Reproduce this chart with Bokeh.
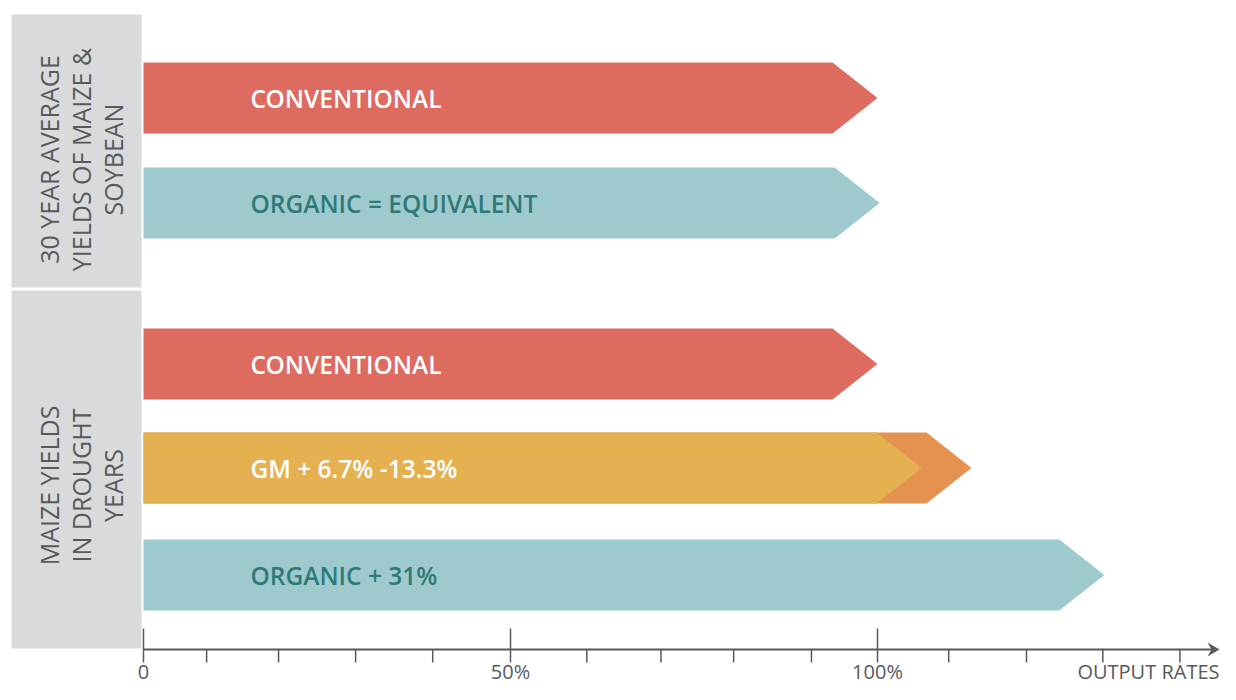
import math
from bokeh.plotting import figure
from bokeh.models import Range1d
from bokeh.core.properties import value
from bokeh.embed import file_html
from bokeh.resources import INLINE

# ---------------- data ----------------
group_labels = [
    ["30 YEAR AVERAGE", "YIELDS OF MAIZE &", "SOYBEAN"],
    ["MAIZE YIELDS", "IN DROUGHT", "YEARS"],
]
bar_labels = ["CONVENTIONAL", "ORGANIC = EQUIVALENT", "CONVENTIONAL", "GM  + 6.7% -13.3%", "ORGANIC + 31%"]
bar_group = [0, 0, 1, 1, 1]
bar_values = [100, 100.3, 100, 106, 130.9]        # output rate, % of conventional
gm_range_high = 112.8                              # GM upper end (orange)
bar_colors = ["#dd6b5f", "#9fcacd", "#dd6b5f", "#e5b050", "#9fcacd"]
label_colors = ["#ffffff", "#2e7a7a", "#ffffff", "#ffffff", "#2e7a7a"]
major_ticks = [0, 50, 100]
major_tick_labels = ["0", "50%", "100%"]
minor_ticks = [8.6, 18.4, 28.9, 39.4, 60.4, 70.5, 80.4, 91.0, 109.7, 120.3, 130.7, 141.2]
axis_title = "OUTPUT RATES"

# ---------------- layout (pixel geometry) ----------------
W, H = 1220, 684
PX = 7.34          # pixels per percent
X0 = 143           # pixel x of 0 %
def xs_(px):
    return (px - X0) / PX

row_centers = [97.5, 202.5, 363.5, 467.5, 574.5]
BAR_H = 71
HEAD = 45 / PX
panel_y = [(14, 287), (290, 648)]
panel_text_center = [159, 485]
panel_line_x = [48, 80, 112]
AXIS_Y = 649
GREY = "#58595b"
FONT = value("Open Sans")

p = figure(width=W, height=H, output_backend="svg", toolbar_location=None,
           x_range=Range1d(xs_(0), xs_(W)), y_range=Range1d(H, 0),
           x_axis_type=None, y_axis_type=None, min_border=0,
           outline_line_color=None, background_fill_color="white")
p.grid.visible = False

# grey group panels
p.quad(left=[xs_(11)] * 2, right=[xs_(141)] * 2,
       bottom=[b for _, b in panel_y], top=[t for t, _ in panel_y],
       fill_color="#d9dadc", line_color=None)

# group labels (rotated)
tx, ty, tt = [], [], []
for g, lines in enumerate(group_labels):
    for i, line in enumerate(lines):
        tx.append(xs_(panel_line_x[i]))
        ty.append(panel_text_center[g])
        tt.append(line)
p.text(x=tx, y=ty, text=tt, angle=math.pi / 2, text_align="center", text_baseline="middle",
       text_font=FONT, text_font_size="25px", text_color=GREY)

# arrows
def arrow(v, yc):
    head = min(HEAD, v)
    return ([0, v - head, v, v - head, 0],
            [yc - BAR_H / 2, yc - BAR_H / 2, yc, yc + BAR_H / 2, yc + BAR_H / 2])

axs, ays, acol = [], [], []
for i, v in enumerate(bar_values):
    if bar_labels[i].startswith("GM"):
        a = arrow(gm_range_high, row_centers[i])
        axs.append(a[0]); ays.append(a[1]); acol.append("#e59250")
    a = arrow(v, row_centers[i])
    axs.append(a[0]); ays.append(a[1]); acol.append(bar_colors[i])
p.patches(xs=axs, ys=ays, fill_color=acol, line_color=None)

# bar labels
p.text(x=[xs_(250)] * len(bar_labels), y=row_centers, text=bar_labels,
       text_align="left", text_baseline="middle", text_color=label_colors,
       text_font=value("Open Sans SemiBold, Open Sans"), text_font_size="24.5px")

# x axis (drawn)
TIP_PX = 1219
p.segment(x0=[0], y0=[AXIS_Y], x1=[xs_(TIP_PX - 3)], y1=[AXIS_Y], line_color=GREY, line_width=2)
p.patch(x=[xs_(TIP_PX - 12), xs_(TIP_PX), xs_(TIP_PX - 12), xs_(TIP_PX - 8)],
        y=[AXIS_Y - 7, AXIS_Y, AXIS_Y + 7, AXIS_Y], fill_color=GREY, line_color=None)
p.segment(x0=major_ticks, x1=major_ticks, y0=[AXIS_Y - 21] * 3, y1=[AXIS_Y + 13] * 3,
          line_color=GREY, line_width=1.5)
p.segment(x0=minor_ticks, x1=minor_ticks, y0=[AXIS_Y] * len(minor_ticks),
          y1=[AXIS_Y + 13] * len(minor_ticks), line_color=GREY, line_width=1.5)
p.text(x=major_ticks, y=[671] * 3, text=major_tick_labels, text_align="center",
       text_baseline="middle", text_font=FONT, text_font_size="20px", text_color=GREY)
p.text(x=[xs_(TIP_PX)], y=[671], text=[axis_title], text_align="right",
       text_baseline="middle", text_font=FONT, text_font_size="20px", text_color=GREY)

open("out.html", "w").write(file_html(p, INLINE))
